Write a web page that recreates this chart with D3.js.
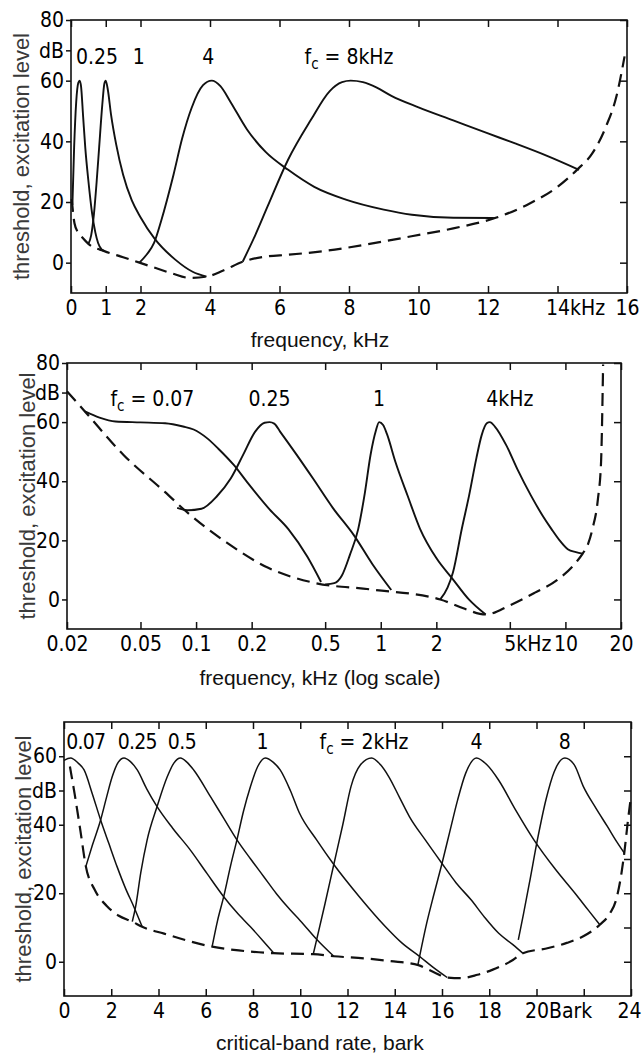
<!DOCTYPE html>
<html>
<head>
<meta charset="utf-8">
<script src="https://cdn.jsdelivr.net/npm/d3@7"></script>
<style>
body { margin: 0; background: #fff; }
svg { display: block; }
.tick text, .lbl { font-family: "DejaVu Sans Condensed", "DejaVu Sans", sans-serif; font-size: 21px; fill: #000; }
.ytitle { font-family: "Liberation Sans", Arial, sans-serif; font-size: 22px; fill: #3a3a3a; }
.xtitle { font-family: "Liberation Sans", Arial, sans-serif; font-size: 21px; fill: #111; }
</style>
</head>
<body>
<div id="chart"></div>
<script>
// ---- panel 1: linear frequency (kHz, dB) ----
var p1Threshold = [[0.02,21],[0.1,13],[0.2,10],[0.31,8.5],[0.5,6.2],[0.96,3.8],[1.5,1.8],[1.97,0],[2.5,-2],[2.92,-3.6],[3.4,-5],[3.9,-4.6],[4.4,-2.5],[4.94,0.3],[5.6,2],[6.25,2.6],[7.4,4],[8.5,6],[9.8,8.7],[11,11.3],[12.2,14.7],[13.2,19.5],[14,25],[14.56,30.6],[15,36],[15.4,45],[15.7,55],[15.93,68]];
var p1Mask025 = [[0.04,19],[0.09,38],[0.15,53],[0.21,59.3],[0.25,60],[0.29,58],[0.35,48],[0.41,38],[0.5,27],[0.61,16],[0.7,10],[0.78,6.5],[0.88,4.4],[0.96,3.8]];
var p1Mask1 = [[0.5,6.2],[0.58,9],[0.66,16],[0.74,27],[0.81,38],[0.9,52],[0.96,59],[1,60],[1.06,57],[1.15,49],[1.3,39],[1.5,29],[1.75,20.5],[2,15],[2.4,8],[3,1],[3.5,-3],[3.9,-4.6]];
var p1Mask4 = [[1.97,0],[2.2,3],[2.39,6.5],[2.6,14],[2.95,29],[3.2,41],[3.47,51],[3.8,58.5],[4.05,60],[4.3,58.2],[4.59,53],[5.06,44],[5.6,36.5],[6.25,30.6],[7,25],[7.91,20.8],[9,17.5],[9.81,15.8],[11,14.8],[12.2,14.7]];
var p1Mask8 = [[4.94,0.3],[5.3,9],[5.66,18.6],[6.25,34],[6.9,47],[7.44,56.5],[7.8,59.5],[8.05,60],[8.4,59.5],[8.8,57.7],[9.22,55],[10,51.2],[11,46.9],[12,42.6],[12.78,39.3],[13.7,35.2],[14.62,30.6]];
var p1XTicks = [0, 1, 2, 4, 6, 8, 10, 12, 14, 16];
var p1YTicks = [0, 20, 40, 60, 80];

// ---- panel 2: log frequency ----
var p2Threshold = [[0.02,70.4],[0.025,63.6],[0.0406,48.8],[0.068,36.3],[0.0875,30],[0.146,19.3],[0.244,10.8],[0.43,5.7],[0.88,3.4],[2.1,0],[2.8,-3],[3.7,-5.1],[5,-2],[6.84,2.3],[9,6.5],[11.4,12.5],[12.4,15.5],[13.3,19],[14,23.8],[15,34],[15.6,46.6],[16,79.5]];
var p2Mask007 = [[0.025,63.6],[0.03,61.5],[0.0366,60.2],[0.05,59.9],[0.068,59.6],[0.085,58.5],[0.097,57.5],[0.115,54.5],[0.132,51],[0.16,45.5],[0.189,39.7],[0.25,30.5],[0.316,23.8],[0.4,14.5],[0.475,5.9]];
var p2Mask025 = [[0.079,31],[0.09,30.2],[0.107,30.7],[0.13,35],[0.154,40.9],[0.18,49],[0.209,56.8],[0.235,59.8],[0.25,60],[0.265,59.5],[0.285,56.8],[0.35,49],[0.43,40.9],[0.55,31],[0.718,21.6],[0.9,12],[1.14,3.2]];
var p2Mask1 = [[0.5,5.1],[0.56,5.5],[0.615,8],[0.68,15],[0.755,23.8],[0.82,36],[0.88,48.8],[0.94,57],[0.98,60],[1.03,59],[1.08,56],[1.2,46.6],[1.4,35],[1.63,24],[2,14],[2.46,6.8],[3,0],[3.7,-5.1]];
var p2Mask4 = [[2.1,0],[2.3,4],[2.46,9.1],[2.75,24],[3.01,35.2],[3.3,48],[3.52,55.6],[3.75,59.6],[3.9,60],[4.15,58.5],[4.78,52.2],[5.5,44],[6.5,35.2],[7.5,28.5],[8.41,23.8],[9.3,20],[10.3,17],[11.4,16],[12.4,15.5]];
var p2XTicks = [0.02, 0.05, 0.1, 0.2, 0.5, 1, 2, 5, 10, 20];
var p2YTicks = [0, 20, 40, 60, 80];

// ---- panel 3: critical-band rate (Bark) ----
var p3Threshold = [[0.25,57],[0.45,49],[0.7,38],[0.92,28],[1.3,21],[1.81,16.3],[2.3,13.5],[2.89,11.7],[3.31,10.2],[4.24,8.2],[5.2,6.2],[6.27,4.4],[7.4,3.3],[8.87,2.5],[10.55,2.2],[11.42,1.6],[12.7,1],[13.8,0.2],[15,-1],[15.7,-3.2],[16.22,-4.6],[16.8,-4.8],[17.5,-3.8],[18.15,-2.3],[19,0.5],[19.42,2.5],[20.5,4],[21.28,5.5],[22,7.5],[22.68,10.8],[23.1,14],[23.37,18.1],[23.6,26],[23.72,32],[23.85,40],[23.98,47.3]];
var p3Mask007 = [[0,58.8],[0.28,59.5],[0.6,58],[0.85,56],[1.2,49],[1.55,41.4],[1.9,34.5],[2.25,27.7],[2.6,21.5],[2.96,16],[3.31,10.2]];
var p3Mask025 = [[0.92,27.7],[1.2,34],[1.55,41.4],[1.8,48],[2.04,54],[2.3,58.3],[2.54,59.5],[2.8,58.5],[3.1,56],[3.5,50.5],[3.94,45.3],[4.6,39],[5.35,32.6],[6.05,25.8],[6.76,19],[7.3,14.5],[7.89,10.2],[8.4,6.3],[8.87,2.6]];
var p3Mask05 = [[2.89,11.7],[3.03,16],[3.25,26],[3.52,35.6],[3.94,45.3],[4.37,54],[4.65,58],[4.93,59.5],[5.2,58.3],[5.49,56],[6.2,48.2],[6.75,42],[7.32,35.6],[7.9,30],[8.45,24.9],[9,19.8],[9.58,15.1],[10,12],[10.7,6.5],[11.42,1.6]];
var p3Mask1 = [[6.27,4.4],[6.5,12],[6.76,19],[7.05,28],[7.32,35.6],[7.6,44],[7.89,51.1],[8.2,57],[8.52,59.5],[8.85,58.3],[9.15,56],[9.58,50],[9.96,43.5],[10.7,35.5],[11.42,28.4],[12.5,19],[13.6,10.3],[14.3,5.5],[15.06,1.5],[15.6,-1.5],[16.22,-4.6]];
var p3Mask2 = [[10.55,2.2],[10.69,6.3],[11.05,17],[11.42,28.4],[11.8,40],[12.15,51.2],[12.55,57.5],[13.02,59.5],[13.4,57.5],[13.75,54],[14.2,48],[14.62,42.4],[15.3,35.5],[16,28.7],[16.6,23],[17.24,18],[17.8,13],[18.4,8.3],[19,5],[19.42,2.5]];
var p3Mask4 = [[14.98,-0.9],[15.35,11.2],[15.65,19.5],[16,28.7],[16.33,38],[16.66,47.2],[17,55],[17.46,59.5],[17.9,57.5],[18.4,53],[19.1,44.5],[19.89,35.6],[20.8,27],[21.63,20],[22.2,15],[22.68,10.8]];
var p3Mask8 = [[19.23,6.4],[19.45,14],[19.7,23],[20.05,36],[20.4,47.3],[20.75,55.5],[21.2,59.5],[21.6,57.5],[21.98,51.2],[22.5,45],[23,39.5],[23.4,35],[23.72,31.7]];
var p3XTicks = [0, 2, 4, 6, 8, 10, 12, 14, 16, 18, 20, 22, 24];
var p3YTicks = [0, 10, 20, 30, 40, 50, 60];

var W = 642, H = 1055;
var svg = d3.select("#chart").append("svg")
	.attr("width", W)
	.attr("height", H);

function drawPanel(opt) {
	var g = svg.append("g");

	var x = (opt.log ? d3.scaleLog() : d3.scaleLinear())
		.domain(opt.xDomain)
		.range([opt.left, opt.right]);
	var y = d3.scaleLinear()
		.domain(opt.yDomain)
		.range([opt.bottom, opt.top]);

	// ticks and labels
	var left = g.append("g")
		.attr("transform", "translate(" + opt.left + ",0)")
		.call(d3.axisLeft(y).tickValues(opt.yLabels).tickSize(5).tickPadding(2).tickFormat(opt.yFmt));
	var right = g.append("g")
		.attr("transform", "translate(" + opt.right + ",0)")
		.call(d3.axisRight(y).tickValues(opt.yTicks).tickSize(-7).tickFormat(""));
	var bottom = g.append("g")
		.attr("transform", "translate(0," + opt.bottom + ")")
		.call(d3.axisBottom(x).tickValues(opt.xTicks).tickSizeInner(-7).tickSizeOuter(0).tickPadding(7).tickFormat(opt.xFmt));
	var top = g.append("g")
		.attr("transform", "translate(0," + opt.top + ")")
		.call(d3.axisTop(x).tickValues(opt.xTicks).tickSize(-7).tickFormat(""));

	[left, right, bottom, top].forEach(function(a) {
		a.select(".domain").remove();
		a.selectAll(".tick line").attr("stroke", "#111").attr("stroke-width", 1.5);
	});

	// labels with a unit after the number ("14kHz", "20Bark") start at the number
	bottom.selectAll(".tick text")
		.attr("text-anchor", function(d) {
			if (opt.unitAt && opt.unitAt.v === d) return "start";
			if (d === opt.xDomain[1] && opt.lastEnd) return "end";
			return "middle";
		})
		.attr("dx", function(d) {
			if (opt.unitAt && opt.unitAt.v === d) return -opt.unitAt.half;
			if (d === opt.xDomain[1] && opt.lastEnd) return opt.lastEnd;
			return 0;
		});

	// frame
	g.append("rect")
		.attr("x", opt.left)
		.attr("y", opt.top)
		.attr("width", opt.right - opt.left)
		.attr("height", opt.bottom - opt.top)
		.attr("fill", "none")
		.attr("stroke", "#111")
		.attr("stroke-width", 1.6);

	var line = d3.line()
		.x(function(d) { return x(d[0]); })
		.y(function(d) { return y(d[1]); })
		.curve(d3.curveMonotoneX);

	// threshold in quiet (dashed)
	g.append("path")
		.datum(opt.threshold)
		.attr("d", line)
		.attr("fill", "none")
		.attr("stroke", "#111")
		.attr("stroke-width", 2.2)
		.attr("stroke-dasharray", "13,7");

	// excitation patterns
	g.selectAll("path.mask")
		.data(opt.masks)
		.enter()
		.append("path")
		.attr("class", "mask")
		.attr("d", line)
		.attr("fill", "none")
		.attr("stroke", "#111")
		.attr("stroke-width", opt.sw);

	// curve labels
	opt.labels.forEach(function(l) {
		var t = g.append("text")
			.attr("class", "lbl")
			.attr("x", x(l.x))
			.attr("y", y(l.y))
			.attr("text-anchor", l.anchor || "middle")
			.attr("letter-spacing", l.ls || 0);
		if (l.fc) {
			t.append("tspan").text("f");
			t.append("tspan").text("c").attr("font-size", "15px").attr("dy", 5);
			t.append("tspan").text(l.text).attr("dy", -5);
		} else {
			t.text(l.text);
		}
	});

	// axis titles
	svg.append("text")
		.attr("class", "ytitle")
		.attr("transform", "translate(" + opt.yTitleX + "," + ((opt.top + opt.bottom) / 2) + ") rotate(-90)")
		.attr("text-anchor", "middle")
		.attr("dy", "0.35em")
		.text("threshold, excitation level");
	svg.append("text")
		.attr("class", "xtitle")
		.attr("x", 320)
		.attr("y", opt.xTitleY)
		.attr("text-anchor", "middle")
		.text(opt.xTitle);
}

drawPanel({
	left: 71, right: 627, top: 20, bottom: 293,
	xDomain: [0, 16], yDomain: [-10, 80],
	xTicks: p1XTicks, yTicks: p1YTicks, yLabels: [0, 20, 40, 60, 70, 80],
	xFmt: function(d) { return d === 14 ? "14kHz" : d; },
	yFmt: function(d) { return d === 70 ? "dB" : d; },
	unitAt: { v: 14, half: 12 },
	threshold: p1Threshold,
	masks: [p1Mask025, p1Mask1, p1Mask4, p1Mask8],
	sw: 1.9,
	labels: [
		{ x: 0.75, y: 65.5, text: "0.25" },
		{ x: 1.95, y: 65.5, text: "1" },
		{ x: 3.95, y: 65.5, text: "4" },
		{ x: 8.0, y: 65.5, text: " = 8kHz", fc: true }
	],
	yTitleX: 21, xTitleY: 347, xTitle: "frequency, kHz"
});

drawPanel({
	left: 67, right: 621, top: 363, bottom: 629,
	log: true,
	xDomain: [0.02, 20], yDomain: [-10, 80],
	xTicks: p2XTicks, yTicks: p2YTicks, yLabels: [0, 20, 40, 60, 70, 80],
	xFmt: function(d) { return d === 5 ? "5kHz" : d; },
	yFmt: function(d) { return d === 70 ? "dB" : d; },
	unitAt: { v: 5, half: 6 },
	threshold: p2Threshold,
	masks: [p2Mask007, p2Mask025, p2Mask1, p2Mask4],
	sw: 1.9,
	labels: [
		{ x: 0.058, y: 65.5, text: "  =  0.07", fc: true },
		{ x: 0.25, y: 65.5, text: "0.25" },
		{ x: 0.98, y: 65.5, text: "1" },
		{ x: 5.0, y: 65.5, text: "4kHz" }
	],
	yTitleX: 27, xTitleY: 685, xTitle: "frequency, kHz (log scale)"
});

drawPanel({
	left: 64, right: 631, top: 722, bottom: 996,
	xDomain: [0, 24], yDomain: [-10, 70],
	xTicks: p3XTicks, yTicks: p3YTicks, yLabels: [0, 20, 40, 50, 60],
	xFmt: function(d) { return d === 20 ? "20Bark" : (d === 22 ? "" : d); },
	yFmt: function(d) { return d === 50 ? "dB" : d; },
	unitAt: { v: 20, half: 12 },
	lastEnd: 10,
	threshold: p3Threshold,
	masks: [p3Mask007, p3Mask025, p3Mask05, p3Mask1, p3Mask2, p3Mask4, p3Mask8],
	sw: 1.5,
	labels: [
		{ x: 0.1, y: 62, text: "0.07", anchor: "start", ls: -0.8 },
		{ x: 3.1, y: 62, text: "0.25", ls: -0.8 },
		{ x: 5.0, y: 62, text: "0.5", ls: -0.5 },
		{ x: 8.4, y: 62, text: "1" },
		{ x: 12.7, y: 62, text: "  =  2kHz", fc: true },
		{ x: 17.46, y: 62, text: "4" },
		{ x: 21.2, y: 62, text: "8" }
	],
	yTitleX: 23, xTitleY: 1050, xTitle: "critical-band rate, bark"
});
</script>
</body>
</html>
